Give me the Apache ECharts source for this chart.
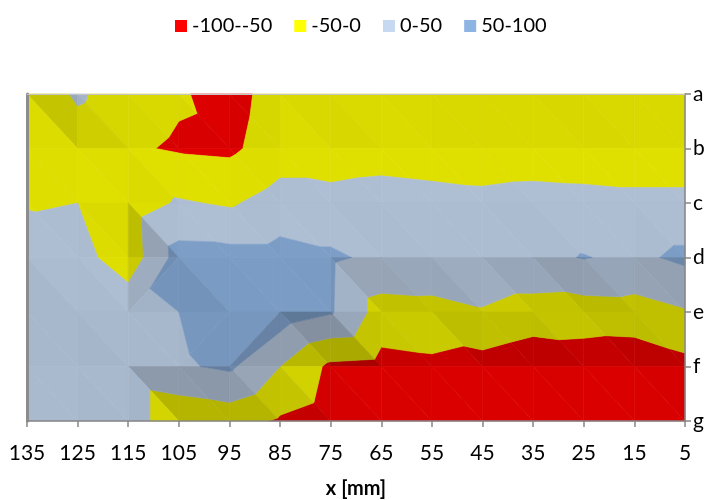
<!DOCTYPE html>
<html>
<head>
<meta charset="utf-8">
<script src="https://cdn.jsdelivr.net/npm/echarts@6/dist/echarts.min.js"></script>
<style>
  html, body { margin: 0; padding: 0; background: #ffffff; }
  #chart { width: 708px; height: 500px; }
</style>
</head>
<body>
<div id="chart"></div>
<script>
// Grid of measured values: columns are x positions [mm], rows are the lines a..g
const xLabels = ['135', '125', '115', '105', '95', '85', '75', '65', '55', '45', '35', '25', '15', '5'];
const yLabels = ['a', 'b', 'c', 'd', 'e', 'f', 'g'];

const rowA = [-40, 8, -30, -45, -67, -30, -28, -27, -30, -32, -30, -28, -30, -30];
const rowB = [-32, -28, -44, -55, -59, -25, -35, -30, -36, -38, -36, -38, -38, -38];
const rowC = [-4, 0, -25, 5, -6, 21, 21, 30, 24, 17, 24, 20, 15, 15];
const rowD = [28, 20, -30, 70, 68, 68, 57, 40, 38, 38, 38, 52, 40, 60];
const rowE = [20, 25, 35, 50, 72, 79, 55, -21, -17, -4, -20, -23, -20, -4];
const rowF = [10, 15, 30, 44, 58, 0, -60, -66, -60, -70, -87, -79, -85, -65];
const rowG = [8, 12, 30, -40, -30, -56, -75, -72, -66, -74, -88, -82, -86, -70];

// Contour bands (legend entries) and their limits
const bandNames = ['-100--50', '-50-0', '0-50', '50-100'];
const bandLimits = [-100, -50, 0, 50, 100];

// Cells (column index, row index of their top-left node) triangulated along the "/" diagonal
const risingDiagonalCells = [[2, 3], [3, 4], [4, 4]];

const rows = [rowA, rowB, rowC, rowD, rowE, rowF, rowG];
const bandColors = ['#FF0000', '#FFFF00', '#C6D9F1', '#8EB4E3'];

// Directional lighting for the surface facets
const LIGHT = (function () {
  const v = [0.1, -0.4, 0.91];
  const n = Math.hypot(v[0], v[1], v[2]);
  return v.map(c => c / n);
})();
const Z_SCALE = 0.4;
const FLAT_SHADE = 0.86;
const SHADOW_GAIN = 0.42;
const HIGHLIGHT_GAIN = 0.2;

function shadeFactor(tri) {
  const [p0, p1, p2] = tri;
  const du1 = p1[0] - p0[0], dv1 = p1[1] - p0[1], dz1 = (p1[2] - p0[2]) * Z_SCALE;
  const du2 = p2[0] - p0[0], dv2 = p2[1] - p0[1], dz2 = (p2[2] - p0[2]) * Z_SCALE;
  const det = du1 * dv2 - du2 * dv1;
  if (Math.abs(det) < 1e-9) return FLAT_SHADE;
  const gu = (dz1 * dv2 - dz2 * dv1) / det;
  const gv = (du1 * dz2 - du2 * dz1) / det;
  const nl = (-gu * LIGHT[0] - gv * LIGHT[1] + LIGHT[2]) / Math.sqrt(1 + gu * gu + gv * gv);
  const d = nl - LIGHT[2];
  return FLAT_SHADE + (d < 0 ? SHADOW_GAIN : HIGHLIGHT_GAIN) * d;
}

function shadeColor(hex, s) {
  const r = parseInt(hex.slice(1, 3), 16), g = parseInt(hex.slice(3, 5), 16), b = parseInt(hex.slice(5, 7), 16);
  const f = c => Math.max(0, Math.min(255, Math.round(c * s)));
  return 'rgb(' + f(r) + ',' + f(g) + ',' + f(b) + ')';
}

// Clip a polygon (points carry [x, y, value]) against a value threshold
function clipPoly(poly, level, keepAbove) {
  const out = [];
  for (let k = 0; k < poly.length; k++) {
    const a = poly[k], b = poly[(k + 1) % poly.length];
    const ina = keepAbove ? a[2] >= level : a[2] <= level;
    const inb = keepAbove ? b[2] >= level : b[2] <= level;
    if (ina) out.push(a);
    if (ina !== inb) {
      const t = (level - a[2]) / (b[2] - a[2]);
      out.push([a[0] + t * (b[0] - a[0]), a[1] + t * (b[1] - a[1]), level]);
    }
  }
  return out;
}

function isRising(i, j) {
  return risingDiagonalCells.some(c => c[0] === i && c[1] === j);
}

const cells = [];
for (let j = 0; j < yLabels.length - 1; j++) {
  for (let i = 0; i < xLabels.length - 1; i++) cells.push([i, j]);
}

function makeRenderer(b) {
  const lo = b === 0 ? -Infinity : bandLimits[b];
  const hi = b === bandNames.length - 1 ? Infinity : bandLimits[b + 1];
  return function (params, api) {
    const i = api.value(0), j = api.value(1);
    const node = (ii, jj) => {
      const p = api.coord([ii, jj]);
      return [p[0], p[1], rows[jj][ii]];
    };
    const tl = node(i, j), tr = node(i + 1, j), bl = node(i, j + 1), br = node(i + 1, j + 1);
    const tris = isRising(i, j) ? [[tl, tr, bl], [tr, br, bl]] : [[tl, tr, br], [tl, br, bl]];
    const children = [];
    tris.forEach(t => {
      let poly = clipPoly(t, lo, true);
      if (poly.length >= 3) poly = clipPoly(poly, hi, false);
      if (poly.length >= 3) {
        const col = shadeColor(bandColors[b], shadeFactor(t));
        children.push({
          type: 'polygon',
          shape: { points: poly.map(p => [p[0], p[1]]) },
          style: { fill: col, stroke: col, lineWidth: 0.6 }
        });
      }
    });
    return { type: 'group', children: children };
  };
}

const FONT = 'Lato';
const axisGray = '#868686';

const chart = echarts.init(document.getElementById('chart'), null, { renderer: 'canvas' });
chart.setOption({
  animation: false,
  backgroundColor: '#ffffff',
  textStyle: { fontFamily: FONT },
  legend: {
    top: 11,
    left: 170,
    icon: 'rect',
    itemWidth: 12,
    itemHeight: 12,
    itemGap: 22,
    selectedMode: false,
    textStyle: { fontFamily: FONT, fontSize: 20, color: '#000', lineHeight: 20 },
    data: bandNames
  },
  grid: { left: 27, right: 23, top: 94, bottom: 79, outerBoundsMode: 'none', containLabel: false },
  xAxis: [
    {
      type: 'category',
      data: xLabels,
      boundaryGap: false,
      position: 'bottom',
      z: 10,
      axisLine: { lineStyle: { color: axisGray, width: 1.5 } },
      axisTick: { show: true, length: 6, lineStyle: { color: axisGray, width: 1.5 } },
      axisLabel: { color: '#000', fontFamily: FONT, fontSize: 21, margin: 22, interval: 0 },
      splitLine: { show: false },
      name: 'x [mm]',
      nameLocation: 'middle',
      nameGap: 58,
      nameTextStyle: { color: '#000', fontFamily: FONT, fontSize: 20, fontWeight: 'bold' }
    },
    {
      type: 'category',
      data: xLabels,
      boundaryGap: false,
      position: 'top',
      z: 10,
      axisLine: { lineStyle: { color: '#c4c4c4', width: 1 } },
      axisTick: { show: false },
      axisLabel: { show: false },
      splitLine: { show: false }
    }
  ],
  yAxis: [
    {
      type: 'category',
      data: yLabels,
      inverse: true,
      boundaryGap: false,
      position: 'right',
      z: 10,
      axisLine: { lineStyle: { color: axisGray, width: 1.5 } },
      axisTick: { show: true, length: 6, lineStyle: { color: axisGray, width: 1.5 } },
      axisLabel: { color: '#000', fontFamily: FONT, fontSize: 21, margin: 8, interval: 0 },
      splitLine: { show: false }
    },
    {
      type: 'category',
      data: yLabels,
      inverse: true,
      boundaryGap: false,
      position: 'left',
      z: 10,
      axisLine: { lineStyle: { color: '#8c8c8c', width: 3 } },
      axisTick: { show: false },
      axisLabel: { show: false },
      splitLine: { show: false }
    }
  ],
  series: bandNames.map((name, b) => ({
    type: 'custom',
    name: name,
    xAxisIndex: 0,
    yAxisIndex: 0,
    silent: true,
    itemStyle: { color: bandColors[b] },
    encode: { x: 0, y: 1 },
    renderItem: makeRenderer(b),
    data: cells
  }))
});
</script>
</body>
</html>
